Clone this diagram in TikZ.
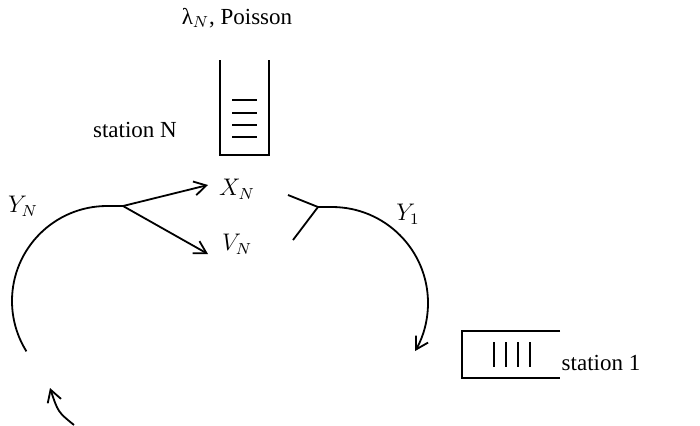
\documentclass[tikz,border=0pt]{standalone}
\usepackage{fontspec}
\setmainfont{Liberation Serif}
\usetikzlibrary{positioning, arrows.meta, calc}

\begin{document}
\begin{tikzpicture}[
    x=0.5pt, y=-0.5pt,
    line width=0.9pt,
    txt/.style={
        font=\fontsize{11.5}{13}\selectfont,
        inner sep=1pt
    },
    flow/.style={
        -{Straight Barb[length=6pt, width=7pt]}
    },
    slot/.style={
        line width=1.2pt
    }
]
    \useasboundingbox (0,0) rectangle (700,425);

    % -- Station N --
    \node[txt] (lam) at (237,18) {λ$_N$, Poisson};
    \node[txt] (stN) at (135,130) {station N};
    \draw (220,60) -- (220,155) -- (269,155) -- (269,60);
    \foreach \y in {100,113,125,137}
        \draw[slot] (232,\y) -- (257,\y);

    % -- Station 1 --
    \node[txt] (st1) at (601,363) {station 1};
    \draw (560,331) -- (462,331) -- (462,378) -- (560,378);
    \foreach \x in {494,506,518,530}
        \draw[slot] (\x,342) -- (\x,367);

    % Labels
    \node[txt] (xn) at (237,189) {$X_N$};
    \node[txt] (vn) at (237,244) {$V_N$};
    \node[txt] (yn) at (23,206) {$Y_N$};
    \node[txt] (y1) at (408,214) {$Y_1$};

    % Split into X_N and V_N
    \coordinate (split) at (123,206);
    \coordinate (xtip) at (208,185);
    \coordinate (vtip) at (208,254);
    \draw[flow] (split) -- (xtip);
    \draw[flow] (split) -- (vtip);
    \draw (split) -- (107,206) arc[start angle=270, end angle=148, radius=95];

    % Merge towards station 1
    \coordinate (join) at (318,207);
    \draw (288,195) -- (join);
    \draw (293,240) -- (join);
    \draw[flow] (join) -- (332,207) arc[start angle=270, end angle=390, radius=96];

    % Return flow
    \coordinate (tail) at (74,425);
    \coordinate (back) at (50,388);
    \draw[flow] (tail) .. controls (58,412) .. (back);

\end{tikzpicture}
\end{document}
